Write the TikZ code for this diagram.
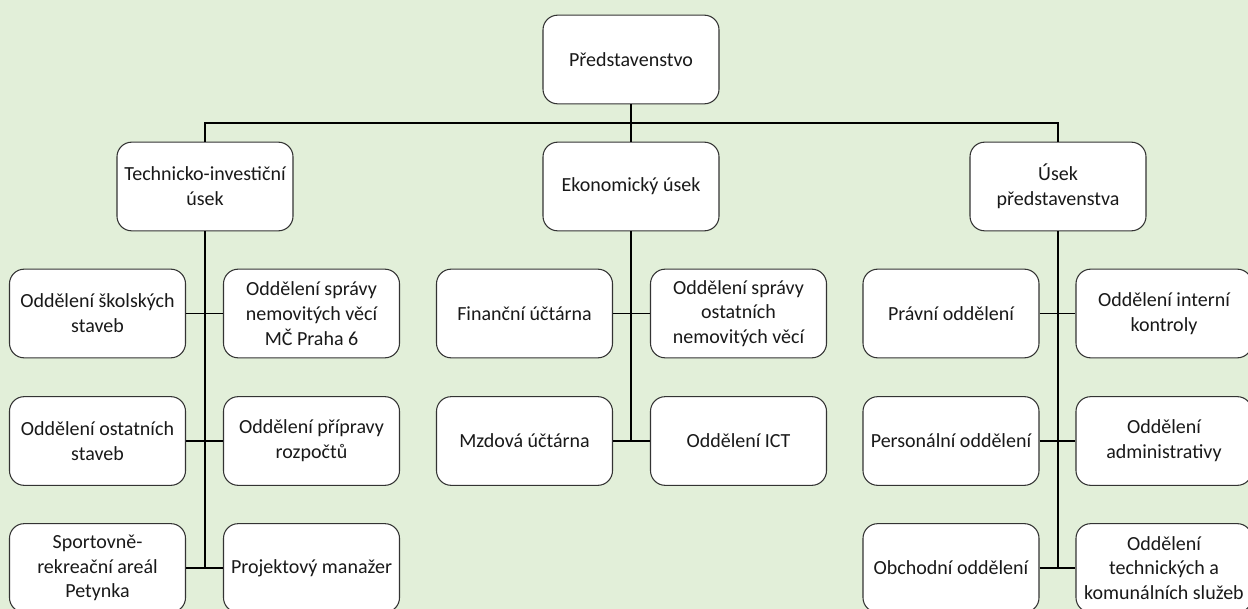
\documentclass[tikz,border=0pt]{standalone}
\usepackage{fontspec}
\setmainfont{Carlito}
\definecolor{bg}{HTML}{E2EFD9}
\begin{document}
\begin{tikzpicture}[x=0.75pt,y=-0.75pt,
  box/.style={draw=black!80,line width=0.8pt,fill=white,rounded corners=11pt,
    minimum width=132pt,minimum height=66.5pt,inner sep=1pt,align=center,
    font=\fontsize{15pt}{18.6pt}\selectfont,text=black!90},
  conn/.style={draw=black,line width=0.9pt}]
\useasboundingbox (0,0) rectangle (1248,609);
\fill[bg] (0,0) rectangle (1248,609);
% nodes
\node[box] (top) at (631,59.5) {Představenstvo};
\node[box] (tech) at (205,186.5) {Technicko-investiční\\úsek};
\node[box] (eko) at (631,186.5) {Ekonomický úsek};
\node[box] (usek) at (1058,186.5) {Úsek\\představenstva};
% technical group
\node[box] (t1l) at (97.5,313.5) {Oddělení školských\\staveb};
\node[box] (t1r) at (311.5,313.5) {Oddělení správy\\nemovitých věcí\\MČ Praha 6};
\node[box] (t2l) at (97.5,441) {Oddělení ostatních\\staveb};
\node[box] (t2r) at (311.5,441) {Oddělení přípravy\\rozpočtů};
\node[box] (t3l) at (97.5,568) {Sportovně-\\rekreační areál\\Petynka};
\node[box] (t3r) at (311.5,568) {Projektový manažer};
% economic group
\node[box] (e1l) at (524.5,313.5) {Finanční účtárna};
\node[box] (e1r) at (738.5,313.5) {Oddělení správy\\ostatních\\nemovitých věcí};
\node[box] (e2l) at (524.5,441) {Mzdová účtárna};
\node[box] (e2r) at (738.5,441) {Oddělení ICT};
% board section group
\node[box] (u1l) at (951,313.5) {Právní oddělení};
\node[box] (u1r) at (1164,313.5) {Oddělení interní\\kontroly};
\node[box] (u2l) at (951,441) {Personální oddělení};
\node[box] (u2r) at (1164,441) {Oddělení\\administrativy};
\node[box] (u3l) at (951,568) {Obchodní oddělení};
\node[box] (u3r) at (1164,568) {Oddělení\\technických a\\komunálních služeb};
% connectors
\coordinate (bus) at (631,123);
\begin{scope}[on background layer/.style={}]
\draw[conn] (top.south) -- (bus);
\draw[conn] (tech.north) |- (bus) -| (usek.north);
\draw[conn] (bus) -- (eko.north);
\draw[conn] (tech.south) -- (tech.south |- t3l.east);
\draw[conn] (eko.south) -- (eko.south |- e2l.east);
\draw[conn] (usek.south) -- (usek.south |- u3l.east);
\draw[conn] (t1l.east) -- (t1r.west);
\draw[conn] (t2l.east) -- (t2r.west);
\draw[conn] (t3l.east) -- (t3r.west);
\draw[conn] (e1l.east) -- (e1r.west);
\draw[conn] (e2l.east) -- (e2r.west);
\draw[conn] (u1l.east) -- (u1r.west);
\draw[conn] (u2l.east) -- (u2r.west);
\draw[conn] (u3l.east) -- (u3r.west);
\end{scope}
\end{tikzpicture}
\end{document}
